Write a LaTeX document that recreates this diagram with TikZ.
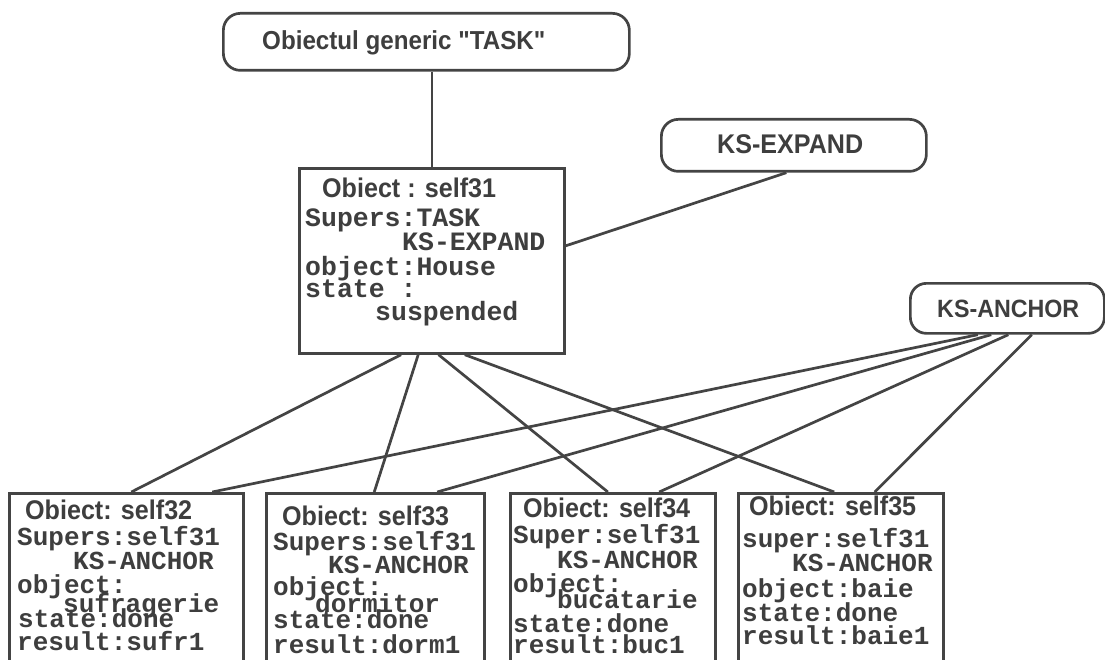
\documentclass[tikz,border=0pt]{standalone}
\usepackage{fontspec}
\usetikzlibrary{calc}
\newfontfamily\ttlfont{Liberation Sans Bold}[FakeStretch=0.93]
\newfontfamily\monob{Liberation Mono}
\definecolor{linec}{RGB}{68,68,68}
\definecolor{textc}{RGB}{62,62,62}
\tikzset{
  ln/.style={draw=linec, line width=2.7pt},
  objbox/.style={draw=linec, line width=2.7pt, fill=white, inner sep=0pt, anchor=north west, minimum height=200pt},
  capsule/.style={draw=linec, line width=2.7pt, rounded corners=17pt, inner sep=0pt, anchor=north west},
  ttl/.style={font=\ttlfont\fontsize{27}{27}\selectfont, text=textc, inner sep=0pt, anchor=base west},
  bdy/.style={font=\monob\bfseries\fontsize{26}{26}\selectfont, text=textc, inner sep=0pt, anchor=base west},
  bdyL/.style={bdy, font=\monob\bfseries\fontsize{26.5}{26.5}\selectfont},
}
\begin{document}
\begin{tikzpicture}[x=1pt,y=-1pt]
\clip (0,0) rectangle (1105,660);
\fill[white] (0,0) rectangle (1105,660);

% generic objects
\node[capsule, minimum width=406pt, minimum height=57pt] (task) at (222,12) {};
\node[ttl, font=\ttlfont\fontsize{26}{26}\selectfont] (taskl) at (262,50) {Obiectul generic "TASK"};
\node[capsule, minimum width=265pt, minimum height=52pt] (kse) at (660,118) {};
\node[ttl] (ksel) at (717,154) {KS-EXPAND};
\node[capsule, minimum width=194pt, minimum height=50pt, rounded corners=16pt] (ksa) at (909,282) {};
\node[ttl, font=\ttlfont\fontsize{25}{25}\selectfont] (ksal) at (937,317) {KS-ANCHOR};

% self31
\node[objbox, minimum width=265pt, minimum height=185pt] (s31) at (298,167) {};
\node[ttl] (t31a) at (322,198) {Obiect : self31};
\node[bdyL] (t31b) at (305,227) {Supers:TASK};
\node[bdyL] (t31c) at (402,251) {KS-EXPAND};
\node[bdyL] (t31d) at (305,276) {object:House};
\node[bdyL] (t31e) at (305,298) {state :};
\node[bdyL] (t31f) at (375,320) {suspended};

% bottom objects
\node[objbox, minimum width=234pt] (s32) at (8,492) {};
\node[objbox, minimum width=218pt] (s33) at (265,492) {};
\node[objbox, minimum width=205pt] (s34) at (509,492) {};
\node[objbox, minimum width=205pt] (s35) at (737,492) {};

% self32
\node[ttl] (t32a) at (25,519) {Obiect: self32};
\node[bdy] (t32b) at (17,545) {Supers:self31};
\node[bdy] (t32c) at (73,569) {KS-ANCHOR};
\node[bdy] (t32d) at (17,593) {object:};
\node[bdy] (t32e) at (63,612) {sufragerie};
\node[bdy] (t32f) at (18,627) {state:done};
\node[bdy] (t32g) at (17,650) {result:sufr1};

% self33
\node[ttl] (t33a) at (282,525) {Obiect: self33};
\node[bdy] (t33b) at (273,550) {Supers:self31};
\node[bdy] (t33c) at (328,573) {KS-ANCHOR};
\node[bdy] (t33d) at (273,595) {object:};
\node[bdy] (t33e) at (315,612) {dormitor};
\node[bdy] (t33f) at (273,628) {state:done};
\node[bdy] (t33g) at (273,653) {result:dorm1};

% self34
\node[ttl] (t34a) at (523,517) {Obiect: self34};
\node[bdy] (t34b) at (513,543) {Super:self31};
\node[bdy] (t34c) at (557,568) {KS-ANCHOR};
\node[bdy] (t34d) at (513,592) {object:};
\node[bdy] (t34e) at (557,608) {bucatarie};
\node[bdy] (t34f) at (513,632) {state:done};
\node[bdy] (t34g) at (513,653) {result:buc1};

% self35
\node[ttl] (t35a) at (749,515) {Obiect: self35};
\node[bdy] (t35b) at (742,547) {super:self31};
\node[bdy] (t35c) at (792,571) {KS-ANCHOR};
\node[bdy] (t35d) at (742,597) {object:baie};
\node[bdy] (t35e) at (742,621) {state:done};
\node[bdy] (t35f) at (742,644) {result:baie1};

% connectors
\draw[ln] (s31.north |- task.south) -- (s31.north);
\draw[ln] ($(kse.south west)!0.472!(kse.south east)$) -- ($(s31.north east)!0.42!(s31.south east)$);

\draw[ln] ($(s31.south west)!0.385!(s31.south east)$) -- ($(s32.north west)!0.521!(s32.north east)$);
\draw[ln] ($(s31.south west)!0.449!(s31.south east)$) -- ($(s33.north west)!0.495!(s33.north east)$);
\draw[ln] ($(s31.south west)!0.525!(s31.south east)$) -- ($(s34.north west)!0.476!(s34.north east)$);
\draw[ln] ($(s31.south west)!0.623!(s31.south east)$) -- ($(s35.north west)!0.468!(s35.north east)$);

\draw[ln] ($(ksa.south west)!0.35!(ksa.south east)$) -- ($(s32.north west)!0.863!(s32.north east)$);
\draw[ln] ($(ksa.south west)!0.418!(ksa.south east)$) -- ($(s33.north west)!0.78!(s33.north east)$);
\draw[ln] ($(ksa.south west)!0.505!(ksa.south east)$) -- ($(s34.north west)!0.723!(s34.north east)$);
\draw[ln] ($(ksa.south west)!0.624!(ksa.south east)$) -- ($(s35.north west)!0.663!(s35.north east)$);
\end{tikzpicture}
\end{document}
